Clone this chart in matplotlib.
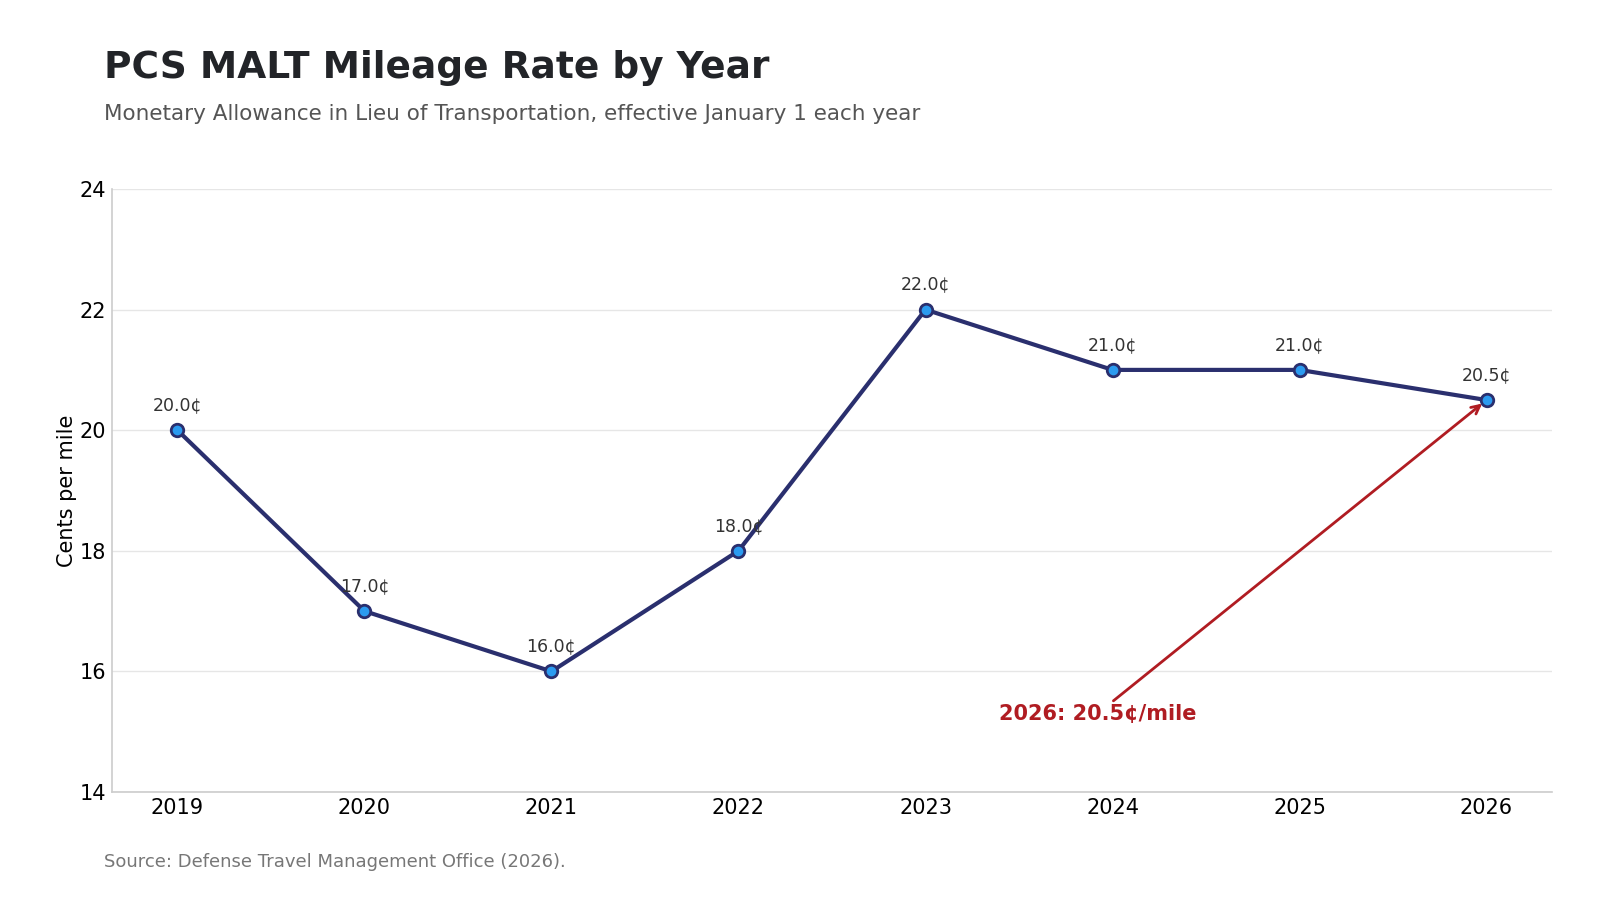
import matplotlib
matplotlib.use("Agg")
import matplotlib.pyplot as plt

years = [2019, 2020, 2021, 2022, 2023, 2024, 2025, 2026]
rates = [20.0, 17.0, 16.0, 18.0, 22.0, 21.0, 21.0, 20.5]
yticks = [14, 16, 18, 20, 22, 24]

plt.rcParams['font.family'] = ['DejaVu Sans']

fig = plt.figure(figsize=(16, 9), dpi=100)
ax = fig.add_axes([0.070, 0.12, 0.900, 0.670])

ax.plot(years, rates, color='#2a2f6e', lw=3, marker='o', markersize=9,
        markerfacecolor='#2b9bf0', markeredgecolor='#2a2f6e', markeredgewidth=2, zorder=3)

for x, y in zip(years, rates):
    ax.annotate(f"{y:.1f}¢", (x, y), xytext=(0, 18), textcoords='offset points',
                ha='center', va='center', fontsize=12.5, color='#333333')

ax.annotate("2026: 20.5¢/mile", xy=(years[-1], rates[-1]), xytext=(2023.92, 15.3),
            ha='center', va='center', fontsize=15, fontweight='bold', color='#b01c22',
            arrowprops=dict(arrowstyle='->', color='#b01c22', lw=2,
                            shrinkA=0, shrinkB=4, mutation_scale=15))

ax.set_ylim(14, 24)
ax.set_yticks(yticks)
ax.set_xticks(years)
ax.set_xlim(2019 - 0.35, 2026 + 0.35)
ax.tick_params(axis='both', length=0, labelsize=15, pad=4)
ax.set_ylabel("Cents per mile", fontsize=15, labelpad=2)
ax.grid(axis='y', color='#e6e6e6', lw=1)
ax.set_axisbelow(True)
for s in ['top', 'right']:
    ax.spines[s].set_visible(False)
for s in ['left', 'bottom']:
    ax.spines[s].set_color('#cccccc')
    ax.spines[s].set_linewidth(1.2)

fig.text(0.065, 0.925, "PCS MALT Mileage Rate by Year", fontsize=27, fontweight='bold',
         color='#222428', va='center', ha='left')
fig.text(0.065, 0.873, "Monetary Allowance in Lieu of Transportation, effective January 1 each year",
         fontsize=15.5, color='#555555', va='center', ha='left')
fig.text(0.065, 0.042, "Source: Defense Travel Management Office (2026).",
         fontsize=13, color='#777777', va='center', ha='left')

fig.savefig("out.png", dpi=100)
